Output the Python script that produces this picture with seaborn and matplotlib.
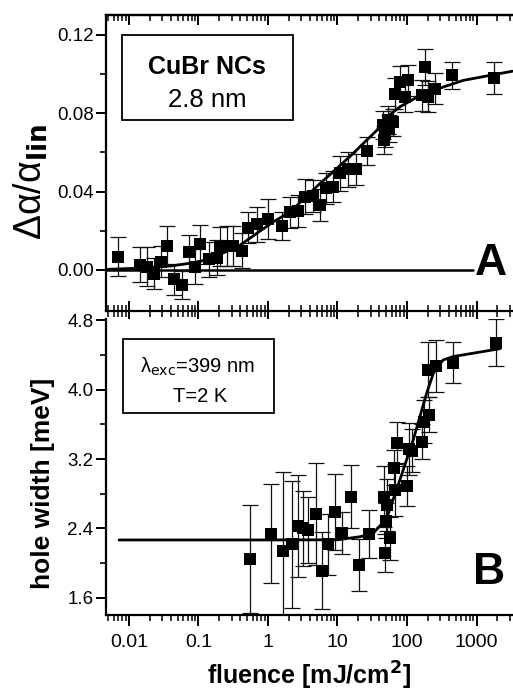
import numpy as np
import pandas as pd
import seaborn as sns
import matplotlib
matplotlib.use("Agg")
import matplotlib.pyplot as plt
from matplotlib.patches import Rectangle
from matplotlib.ticker import LogLocator, FixedLocator, NullFormatter

# ---- panel A: differential absorption vs fluence ----
a_fluence = [0.0070, 0.0144, 0.018, 0.0229, 0.0289, 0.0356, 0.0444, 0.0573, 0.073, 0.089,
             0.105, 0.142, 0.183, 0.204, 0.254, 0.317, 0.427, 0.521, 0.687, 1.01,
             1.57, 2.07, 2.73, 3.41, 4.49, 5.6, 6.83, 8.7, 10.9, 14.3,
             18.5, 26.3, 45.6, 48.2, 46.6, 53.8, 63.6, 55.6, 67.2, 79.3,
             93.5, 104.5, 162.6, 181.5, 203, 253, 440, 1786]
a_signal = [0.0068, 0.0026, 0.0017, -0.0020, 0.0042, 0.0124, -0.0048, -0.0077, 0.0090, 0.0017,
            0.0131, 0.0054, 0.0063, 0.0119, 0.0122, 0.0122, 0.0098, 0.0216, 0.0233, 0.0260,
            0.0224, 0.0294, 0.0300, 0.0374, 0.0377, 0.0331, 0.0417, 0.0425, 0.0493, 0.0513,
            0.0513, 0.0607, 0.0740, 0.0697, 0.0663, 0.0765, 0.0753, 0.0722, 0.0900, 0.0960,
            0.0884, 0.0969, 0.0892, 0.1036, 0.0884, 0.0926, 0.0994, 0.0980]
a_err = [0.010, 0.009, 0.010, 0.008, 0.008, 0.010, 0.008, 0.007, 0.009, 0.009,
         0.010, 0.009, 0.009, 0.010, 0.010, 0.010, 0.009, 0.008, 0.009, 0.010,
         0.007, 0.008, 0.008, 0.009, 0.008, 0.008, 0.008, 0.008, 0.009, 0.009,
         0.008, 0.007, 0.007, 0.007, 0.007, 0.007, 0.007, 0.007, 0.008, 0.008,
         0.008, 0.008, 0.008, 0.009, 0.008, 0.008, 0.007, 0.008]
a_fit_x = [0.005, 0.0145, 0.04, 0.076, 0.13, 0.25, 0.4, 0.69, 1.2, 2.1,
           5.0, 15, 37, 51, 79, 171, 643, 3300]
a_fit_y = [0.0003, 0.0009, 0.0020, 0.0034, 0.0051, 0.0093, 0.0127, 0.0187, 0.0246, 0.0297,
           0.0425, 0.0578, 0.0714, 0.0780, 0.0833, 0.0900, 0.0968, 0.1015]

# ---- panel B: hole width vs fluence ----
b_fluence = [0.55, 1.09, 1.63, 2.19, 2.67, 3.22, 3.8, 4.9, 6.05, 7.2,
             9.2, 11.5, 15.5, 20.4, 28.7, 46.7, 48.2, 49.8, 51.6, 57.8,
             65.7, 67.0, 72.4, 98.5, 107.6, 116.7, 166, 178, 210, 203,
             260, 466, 1900]
b_width = [2.045, 2.337, 2.145, 2.220, 2.430, 2.400, 2.380, 2.567, 1.914, 2.220,
           2.593, 2.345, 2.766, 1.980, 2.337, 2.766, 2.114, 2.490, 2.670, 2.287,
           3.100, 2.840, 3.390, 2.889, 3.315, 3.295, 3.400, 3.630, 3.710, 4.230,
           4.270, 4.310, 4.540]
b_err = [0.62, 0.57, 0.90, 0.73, 0.59, 0.43, 0.38, 0.59, 0.44, 0.35,
         0.44, 0.24, 0.36, 0.30, 0.28, 0.35, 0.22, 0.20, 0.30, 0.25,
         0.20, 0.30, 0.24, 0.23, 0.30, 0.25, 0.20, 0.25, 0.20, 0.32,
         0.30, 0.24, 0.27]
b_fit_x = [0.0072, 1, 10, 21, 32.7, 51, 79, 123, 192, 240, 330, 466, 2170]
b_fit_y = [2.268, 2.268, 2.270, 2.305, 2.345, 2.517, 2.960, 3.420, 3.960, 4.190, 4.340, 4.380, 4.470]

xtick_vals = [0.01, 0.1, 1, 10, 100, 1000]
xtick_text = ["0.01", "0.1", "1", "10", "100", "1000"]

sns.set_theme(style="ticks")
plt.rcParams["font.family"] = ["Liberation Sans", "DejaVu Sans"]
plt.rcParams["mathtext.fontset"] = "dejavusans"
for k in ["text.color", "axes.labelcolor", "xtick.color", "ytick.color", "axes.edgecolor"]:
    plt.rcParams[k] = "black"

df_a = pd.DataFrame({"fluence": a_fluence, "signal": a_signal, "err": a_err})
df_b = pd.DataFrame({"fluence": b_fluence, "width": b_width, "err": b_err})
fit_a = pd.DataFrame({"fluence": a_fit_x, "signal": a_fit_y})
fit_b = pd.DataFrame({"fluence": b_fit_x, "width": b_fit_y})

W, H = 513, 691
fig = plt.figure(figsize=(W / 100, H / 100), dpi=100)
axA = fig.add_axes([106 / W, 1 - 311 / H, (W - 106) / W, 296 / H])
axB = fig.add_axes([106 / W, 1 - 615 / H, (W - 106) / W, 296 / H])

xlim = (0.00467, 3350)

def style_log_x(ax):
    ax.set_xscale("log")
    ax.set_xlim(*xlim)
    ax.xaxis.set_major_locator(FixedLocator(xtick_vals))
    ax.xaxis.set_minor_locator(LogLocator(base=10, subs=np.arange(2, 10), numticks=20))
    ax.xaxis.set_minor_formatter(NullFormatter())
    for s in ["left", "bottom", "top"]:
        ax.spines[s].set_linewidth(1.6)
    ax.spines["right"].set_visible(False)

# panel A
axA.errorbar(df_a["fluence"], df_a["signal"], yerr=df_a["err"], fmt="none",
             ecolor="#111111", elinewidth=0.9, capsize=5.5, capthick=0.9, zorder=2)
sns.scatterplot(data=df_a, x="fluence", y="signal", marker="s", s=70, color="black",
                edgecolor="black", linewidth=0, ax=axA, zorder=3)
sns.lineplot(data=fit_a, x="fluence", y="signal", color="black", lw=2.0, ax=axA,
             zorder=4, sort=True)
axA.axhline(0, xmin=0, xmax=0.902, color="black", lw=1.8, zorder=1)
style_log_x(axA)
axA.set_ylim(-0.021, 0.1302)
axA.set_yticks([0.00, 0.04, 0.08, 0.12])
axA.set_yticklabels(["0.00", "0.04", "0.08", "0.12"])
axA.yaxis.set_minor_locator(FixedLocator([0.02, 0.06, 0.10]))
axA.tick_params(axis="y", which="major", direction="out", length=7, width=1.4,
                labelsize=13.5, pad=2)
axA.tick_params(axis="y", which="minor", direction="out", length=4, width=1.2)
axA.tick_params(axis="x", which="major", direction="inout", length=14, width=1.4,
                top=False, bottom=True, labelbottom=False)
axA.tick_params(axis="x", which="minor", direction="inout", length=9, width=1.1,
                top=False, bottom=True)
# top axis of panel A: ticks pointing inward only
topA = axA.secondary_xaxis("top")
topA.xaxis.set_major_locator(FixedLocator(xtick_vals))
topA.xaxis.set_minor_locator(LogLocator(base=10, subs=np.arange(2, 10), numticks=20))
topA.xaxis.set_minor_formatter(NullFormatter())
topA.tick_params(axis="x", which="major", direction="in", length=7, width=1.4, labeltop=False)
topA.tick_params(axis="x", which="minor", direction="in", length=4.5, width=1.1)
topA.spines["top"].set_linewidth(1.6)
axA.set_xlabel("")
axA.set_ylabel("Δα/α$_{\\mathbf{lin}}$", fontsize=27)
axA.yaxis.set_label_coords(-0.1376, 0.436)
axA.text(0.945, 0.159, "A", transform=axA.transAxes, fontsize=32, fontweight="bold",
         ha="center", va="center")

# panel B
axB.errorbar(df_b["fluence"], df_b["width"], yerr=df_b["err"], fmt="none",
             ecolor="#111111", elinewidth=0.9, capsize=5.5, capthick=0.9, zorder=2)
sns.scatterplot(data=df_b, x="fluence", y="width", marker="s", s=70, color="black",
                edgecolor="black", linewidth=0, ax=axB, zorder=3)
sns.lineplot(data=fit_b, x="fluence", y="width", color="black", lw=2.0, ax=axB,
             zorder=4, sort=True)
style_log_x(axB)
axB.spines["top"].set_visible(False)
axB.set_ylim(1.404, 4.812)
axB.set_yticks([1.6, 2.4, 3.2, 4.0, 4.8])
axB.set_yticklabels(["1.6", "2.4", "3.2", "4.0", "4.8"])
axB.yaxis.set_minor_locator(FixedLocator([2.0, 2.8, 3.6, 4.4]))
axB.tick_params(axis="y", which="major", direction="out", length=7, width=1.4,
                labelsize=13.5, pad=2)
axB.tick_params(axis="y", which="minor", direction="out", length=4, width=1.2)
axB.set_xticks(xtick_vals)
axB.set_xticklabels(xtick_text)
axB.tick_params(axis="x", which="major", direction="out", length=8, width=1.4,
                labelsize=14, top=False, pad=6)
axB.tick_params(axis="x", which="minor", direction="out", length=4.5, width=1.1, top=False)
axB.set_xlabel(r"fluence [mJ/cm$^{\mathbf{2}}$]", fontsize=18, fontweight="bold", labelpad=6)
axB.set_ylabel("hole width [meV]", fontsize=19, fontweight="bold")
axB.yaxis.set_label_coords(-0.125, 0.446)
axB.text(0.94, 0.145, "B", transform=axB.transAxes, fontsize=32, fontweight="bold",
         ha="center", va="center")

# text boxes
fig.patches.append(Rectangle((122 / W, 1 - 120 / H), 171 / W, 85 / H, transform=fig.transFigure,
                             fill=False, edgecolor="black", lw=1.3))
fig.text(207 / W, 1 - 67 / H, "CuBr NCs", fontsize=18, fontweight="bold", ha="center", va="center")
fig.text(207 / W, 1 - 100 / H, "2.8 nm", fontsize=18.5, ha="center", va="center")

fig.patches.append(Rectangle((123 / W, 1 - 413 / H), 151 / W, 74 / H, transform=fig.transFigure,
                             fill=False, edgecolor="black", lw=1.3))
fig.text(198 / W, 1 - 367 / H, "λ$_{\\rm exc}$=399 nm", fontsize=14.5, ha="center", va="center")
fig.text(200 / W, 1 - 396 / H, "T=2 K", fontsize=14.5, ha="center", va="center")

fig.savefig("out.png", dpi=100)
